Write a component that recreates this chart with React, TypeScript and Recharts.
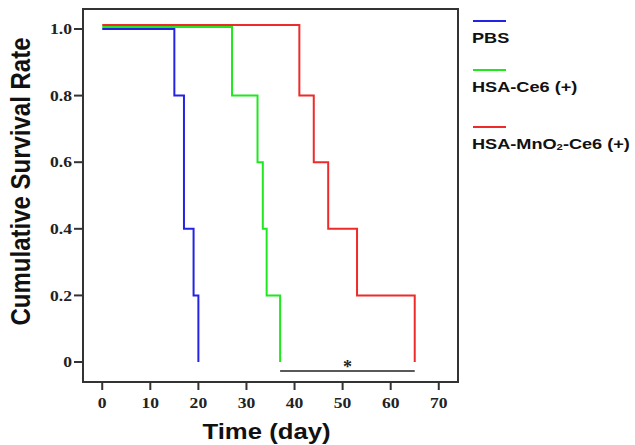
import React from 'react';
import {
    LineChart,
    Line,
    XAxis,
    YAxis,
    ReferenceArea,
    ReferenceDot,
} from 'recharts';

// Kaplan-Meier steps (day, cumulative survival)
const pbsDays = [0, 15, 17, 19, 20];
const pbsRate = [1.0, 0.8, 0.4, 0.2, 0];
const ce6Days = [0, 27, 32.3, 33.4, 34.2, 37];
const ce6Rate = [1.006, 0.8, 0.6, 0.4, 0.2, 0];
const mnoDays = [0, 41, 44, 47, 53, 65];
const mnoRate = [1.012, 0.8, 0.6, 0.4, 0.2, 0];

const xTicks = [0, 10, 20, 30, 40, 50, 60, 70];
const yTicks = [0, 0.2, 0.4, 0.6, 0.8, 1.0];

// significance bracket between groups
const sigDays = [37, 65];
const sigLevel = -0.027;
const sigStarDay = 51;

const toPoints = (days: number[], rates: number[]) => days.map((d, i) => ({ day: d, rate: rates[i] }));

const series = [
    { name: 'PBS', color: '#2323e6', data: toPoints(pbsDays, pbsRate) },
    { name: 'HSA-Ce6 (+)', color: '#1fe81f', data: toPoints(ce6Days, ce6Rate) },
    { name: 'HSA-MnO₂-Ce6 (+)', color: '#ee2b2b', data: toPoints(mnoDays, mnoRate) },
];
const sigData = sigDays.map(d => ({ day: d, rate: sigLevel }));

const STRETCH = 1.17;
const AXIS = '#333';
const SANS = '"Liberation Sans", Arial, sans-serif';
const SERIF = '"Liberation Serif", "Times New Roman", serif';

// eslint-disable-next-line @typescript-eslint/no-explicit-any
function YTick(props: any) {
    const { x, y, payload } = props;
    const v = payload.value;
    return (
        <text transform={`translate(${x},${y}) scale(${STRETCH},1)`} textAnchor="end" dy="0.35em"
            fontFamily={SERIF} fontWeight="bold" fontSize={15} fill="#222">
            {v === 0 ? '0' : v.toFixed(1)}
        </text>
    );
}

// eslint-disable-next-line @typescript-eslint/no-explicit-any
function XTick(props: any) {
    const { x, y, payload } = props;
    return (
        <text transform={`translate(${x},${y + 16}) scale(${STRETCH},1)`} textAnchor="middle"
            fontFamily={SERIF} fontWeight="bold" fontSize={15} fill="#222">
            {payload.value}
        </text>
    );
}

// eslint-disable-next-line @typescript-eslint/no-explicit-any
function YLabel(props: any) {
    const { x, y, height } = props.viewBox;
    const cx = x + 20;
    const cy = y + height / 2 - 14;
    return (
        <text transform={`translate(${cx},${cy}) scale(${STRETCH},1) rotate(-90)`} textAnchor="middle" dy="0.36em"
            fontFamily={SANS} fontWeight="bold" fontSize={24} fill="#111">
            Cumulative Survival Rate
        </text>
    );
}

// eslint-disable-next-line @typescript-eslint/no-explicit-any
function XLabel(props: any) {
    const { x, y, width } = props.viewBox;
    return (
        <text transform={`translate(${x + width / 2 - 4},${y + 57}) scale(${STRETCH},1)`} textAnchor="middle"
            fontFamily={SANS} fontWeight="bold" fontSize={22} fill="#111">
            Time (day)
        </text>
    );
}

// eslint-disable-next-line @typescript-eslint/no-explicit-any
function Star(props: any) {
    const { cx, cy } = props;
    return (
        <text x={cx} y={cy + 2} textAnchor="middle" fontFamily={SERIF} fontWeight="bold" fontSize={18} fill="#222">*</text>
    );
}

function renderName(name: string) {
    const parts = name.split('₂');
    if (parts.length === 1) return name;
    return (
        <>
            {parts[0]}
            <span style={{ fontSize: '0.62em', verticalAlign: '-0.1em' }}>2</span>
            {parts[1]}
        </>
    );
}

const legendTops = [21, 70, 127];

function SurvivalLegend() {
    return (
        <div style={{ position: 'absolute', left: 472, top: 0, width: 165, height: 170 }}>
            {series.map((s, i) => (
                <div key={s.name}>
                    <div style={{ position: 'absolute', left: 1, top: legendTops[i] - 1, width: 33, height: 2, background: s.color }} />
                    <div style={{
                        position: 'absolute', left: 0, top: legendTops[i] + 9, whiteSpace: 'nowrap',
                        fontFamily: SANS, fontWeight: 'bold', fontSize: 15.5, lineHeight: 1, color: '#111',
                        transform: `scaleX(${STRETCH})`, transformOrigin: 'left center',
                    }}>
                        {renderName(s.name)}
                    </div>
                </div>
            ))}
        </div>
    );
}

export default function App() {
    return (
        <div style={{ position: 'absolute', left: 0, top: 0, width: 635, height: 445, background: '#fff' }}>
            <LineChart width={635} height={445} margin={{ top: 9, right: 177, bottom: 0, left: 0 }}>
                <XAxis
                    type="number"
                    dataKey="day"
                    domain={[-4, 74]}
                    ticks={xTicks}
                    allowDataOverflow
                    height={63}
                    tickSize={8}
                    stroke={AXIS}
                    strokeWidth={2}
                    tick={<XTick />}
                    label={{ content: <XLabel /> }}
                />
                <YAxis
                    type="number"
                    domain={[-0.06, 1.06]}
                    ticks={yTicks}
                    allowDataOverflow
                    width={83}
                    tickSize={9}
                    stroke={AXIS}
                    strokeWidth={2}
                    tick={<YTick />}
                    label={{ content: <YLabel /> }}
                />
                <ReferenceArea x1={-4} x2={74} y1={-0.06} y2={1.06} fill="none" stroke={AXIS} strokeWidth={2} />
                <Line data={sigData} dataKey="rate" type="linear" stroke="#222" strokeWidth={1.3}
                    dot={false} activeDot={false} isAnimationActive={false} legendType="none" />
                {series.map(s => (
                    <Line
                        key={s.name}
                        data={s.data}
                        dataKey="rate"
                        name={s.name}
                        type="stepAfter"
                        stroke={s.color}
                        strokeWidth={2}
                        dot={false}
                        activeDot={false}
                        isAnimationActive={false}
                    />
                ))}
                <ReferenceDot x={sigStarDay} y={sigLevel} r={0} shape={<Star />} />
            </LineChart>
            <SurvivalLegend />
        </div>
    );
}
